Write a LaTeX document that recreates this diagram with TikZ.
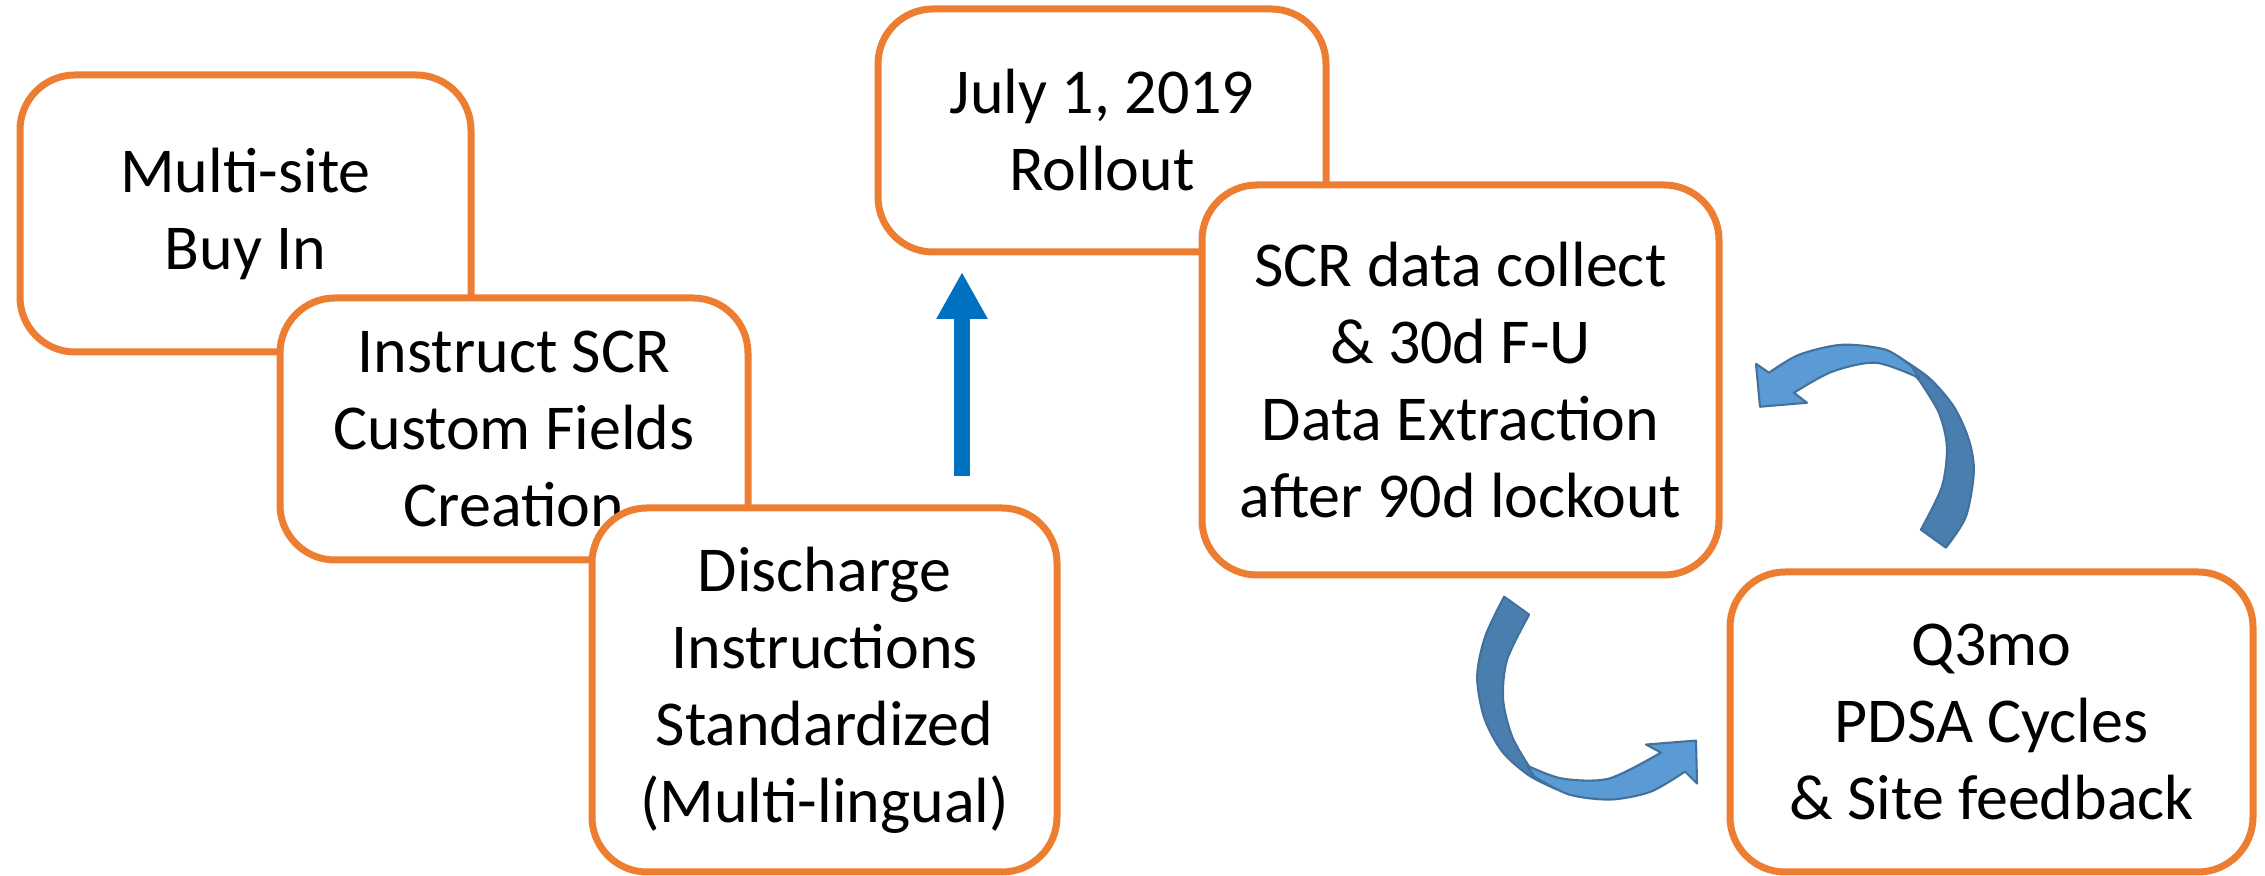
\documentclass[tikz,border=0pt]{standalone}
\usepackage{fontspec}
\setmainfont{Carlito}
\usetikzlibrary{arrows.meta}

\definecolor{stageorange}{HTML}{ED7D31}
\definecolor{pushblue}{HTML}{0070C0}
\definecolor{cyclelight}{HTML}{5B9BD5}
\definecolor{cycledark}{HTML}{4A7EAE}
\definecolor{cycleedge}{HTML}{41719C}

\tikzset{
  stagebox/.style={draw=stageorange, line width=0.07cm, rounded corners=0.55cm, fill=white,
    align=center, inner sep=0pt, font=\fontsize{18.2}{21.9}\selectfont},
  cyclelit/.style={fill=cyclelight, draw=cycleedge, line width=0.6pt, line join=round},
  cycleshade/.style={fill=cycledark, draw=cycleedge, line width=0.6pt, line join=round}
}

\begin{document}
\begin{tikzpicture}
    \useasboundingbox (0,0) rectangle (22.65,-8.76);

    % left cascade of stages
    \node[stagebox, minimum width=4.51cm, minimum height=2.77cm] (buyin) at (2.455,-2.135) {Multi-site\\Buy In};
    \node[stagebox, minimum width=4.68cm, minimum height=2.62cm] (fields) at (5.14,-4.29) {Instruct SCR\\Custom Fields\\Creation};
    \node[stagebox, minimum width=4.65cm, minimum height=3.64cm] (discharge) at (8.245,-6.90) {Discharge\\Instructions\\Standardized\\(Multi-lingual)};

    % go-live arrow
    \coordinate (launch) at (9.62,-4.76);
    \coordinate (golive) at (9.62,-2.72);
    \draw[pushblue, line width=0.16cm, -{Triangle[width=0.48cm, length=0.47cm]}] (launch) -- (golive);

    % rollout and follow-up
    \node[stagebox, minimum width=4.48cm, minimum height=2.43cm] (rollout) at (11.02,-1.305) {July 1, 2019\\Rollout};
    \node[stagebox, minimum width=5.17cm, minimum height=3.90cm] (collect) at (14.605,-3.80) {SCR data collect\\\& 30d F-U\\Data Extraction\\after 90d lockout};
    \node[stagebox, minimum width=5.23cm, minimum height=3.00cm] (pdsa) at (19.915,-7.22) {Q3mo\\PDSA Cycles\\\& Site feedback};

    % feedback loop, ribbons in pixel units
    \begin{scope}[x=0.01cm, y=-0.01cm]
        % upper arrow, back side then front with head
        \filldraw[cycleshade] plot[smooth] coordinates {(1898,356) (1930,378) (1955,407) (1970,440) (1975,472) (1967,517) (1947,548)}
            -- plot[smooth] coordinates {(1922,530) (1943,487) (1948,447) (1940,413) (1920,380)} -- cycle;
        \filldraw[cyclelit] (1757,364) -- (1761,407) -- (1808,403) -- (1795,393)
            -- plot[smooth] coordinates {(1795,393) (1833,372) (1877,363) (1920,378)}
            -- plot[smooth] coordinates {(1913,367) (1887,350) (1843,345) (1800,355) (1770,373)} -- cycle;
        % lower arrow, back side then front with head
        \filldraw[cycleshade] plot[smooth] coordinates {(1505,597) (1486,637) (1478,677) (1485,718) (1503,752) (1530,776) (1558,790)}
            -- plot[smooth] coordinates {(1530,767) (1513,737) (1504,700) (1508,660) (1530,615)} -- cycle;
        \filldraw[cyclelit] (1698,784) -- (1697,741) -- (1647,745) -- (1662,753)
            -- plot[smooth] coordinates {(1662,753) (1610,779) (1563,779) (1528,766)}
            -- plot[smooth] coordinates {(1535,777) (1570,795) (1612,800) (1652,792) (1686,772)} -- cycle;
    \end{scope}
\end{tikzpicture}
\end{document}
